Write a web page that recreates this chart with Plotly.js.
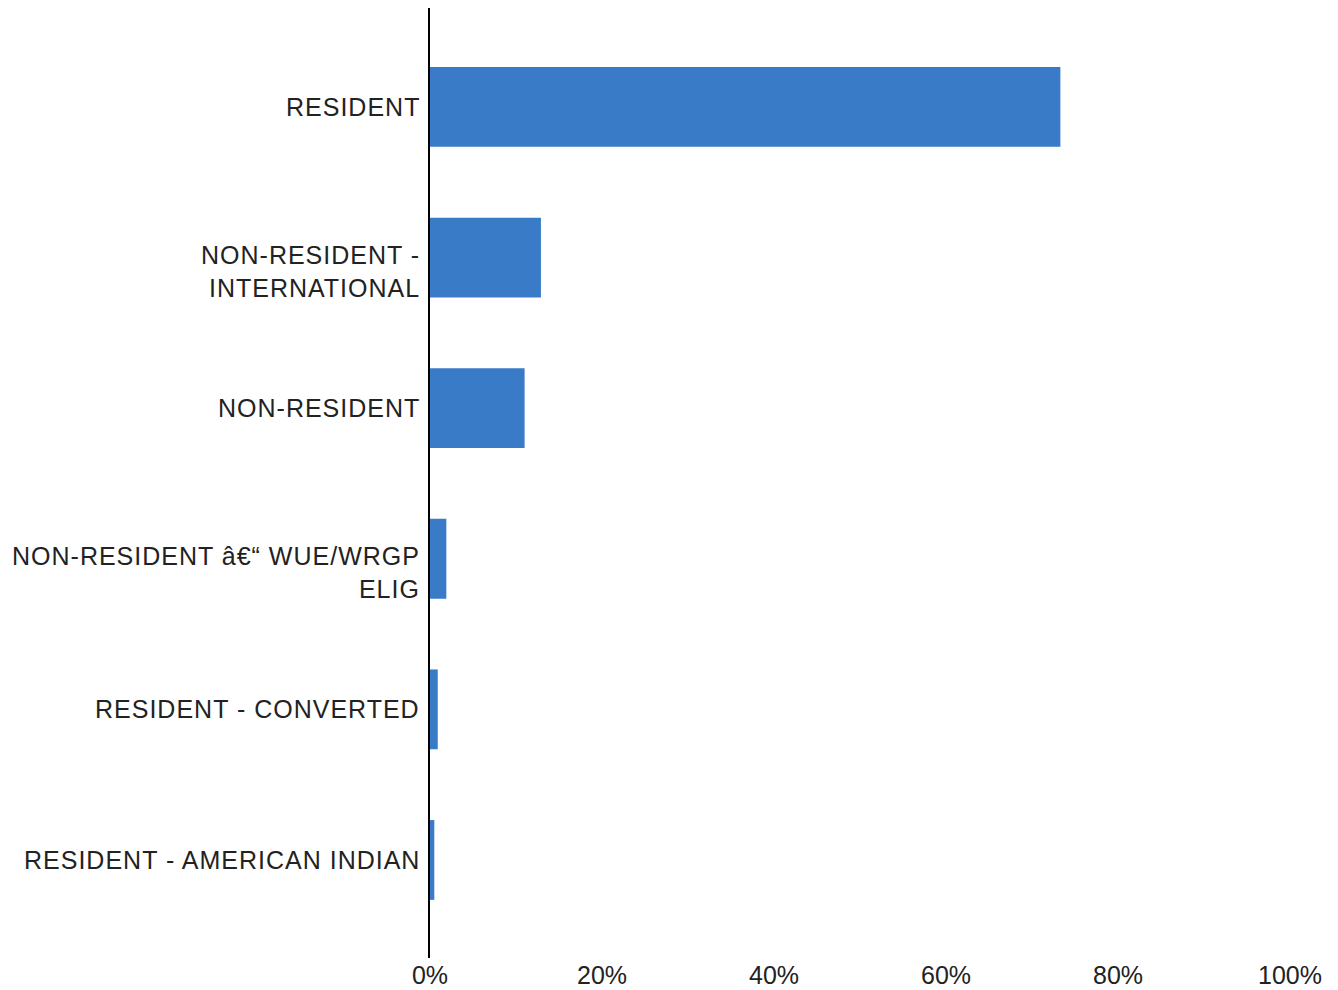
<!DOCTYPE html>
<html>
<head>
<meta charset="utf-8">
<script src="https://cdn.plot.ly/plotly-3.0.1.min.js"></script>
<style>
html,body{margin:0;padding:0;background:#fff;}
#chart{width:1338px;height:990px;}
#chart .annotation-text{letter-spacing:1px;}
</style>
</head>
<body>
<div id="chart"></div>
<script>
const categories = [
  "RESIDENT",
  "NON-RESIDENT -<br>INTERNATIONAL",
  "NON-RESIDENT",
  "NON-RESIDENT \u00e2\u20ac\u201c WUE/WRGP<br>ELIG",
  "RESIDENT - CONVERTED",
  "RESIDENT - AMERICAN INDIAN"
];
const shares = [0.733, 0.129, 0.110, 0.019, 0.009, 0.005];
const xTickValues = [0, 0.2, 0.4, 0.6, 0.8, 1.0];

const trace = {
  type: 'bar',
  orientation: 'h',
  x: shares,
  y: categories,
  marker: {color: '#3a7bc8'},
  hoverinfo: 'x+y'
};

// category labels drawn as annotations so multi-line labels hang from the bar centre
const labelAnnotations = categories.map(function (c) {
  const extraLines = c.split('<br>').length - 1;
  return {
    text: c,
    x: 0, xref: 'paper', xanchor: 'right', xshift: -8,
    y: c, yref: 'y', yanchor: 'middle', yshift: -14 * extraLines,
    align: 'right',
    showarrow: false,
    font: {family: '"Liberation Sans", Arial, sans-serif', size: 25, color: '#222222'}
  };
});

const layout = {
  width: 1338,
  height: 990,
  margin: {l: 430, r: 48, t: 8, b: 32},
  paper_bgcolor: '#ffffff',
  plot_bgcolor: '#ffffff',
  bargap: 0.47,
  showlegend: false,
  font: {family: '"Liberation Sans", Arial, sans-serif', size: 25, color: '#222222'},
  annotations: labelAnnotations,
  xaxis: {
    range: [0, 1],
    tickvals: xTickValues,
    tickformat: '.0%',
    showgrid: false,
    zeroline: false,
    showline: false,
    ticks: '',
    tickfont: {size: 25, color: '#222222'},
    fixedrange: true
  },
  yaxis: {
    type: 'category',
    range: [5.651, -0.657],
    showgrid: false,
    zeroline: false,
    showline: true,
    linecolor: '#000000',
    linewidth: 2,
    ticks: '',
    showticklabels: false,
    fixedrange: true
  }
};

Plotly.newPlot('chart', [trace], layout, {displayModeBar: false, staticPlot: true});
</script>
</body>
</html>
